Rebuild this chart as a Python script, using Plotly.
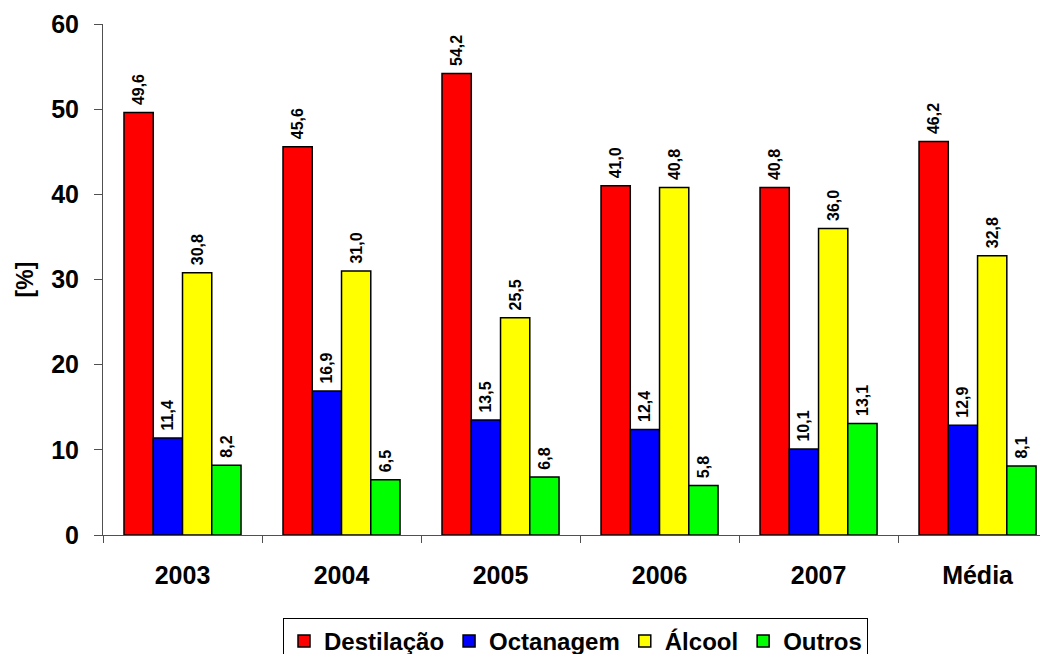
import plotly.graph_objects as go

categories = ["2003", "2004", "2005", "2006", "2007", "Média"]
destilacao = [49.6, 45.6, 54.2, 41.0, 40.8, 46.2]
octanagem = [11.4, 16.9, 13.5, 12.4, 10.1, 12.9]
alcool = [30.8, 31.0, 25.5, 40.8, 36.0, 32.8]
outros = [8.2, 6.5, 6.8, 5.8, 13.1, 8.1]

series = [
    ("Destilação", destilacao, "#FF0000"),
    ("Octanagem", octanagem, "#0000FF"),
    ("Álcool", alcool, "#FFFF00"),
    ("Outros", outros, "#00FF00"),
]

FONT = "Arial, Liberation Sans, sans-serif"
AXIS_COLOR = "#505050"

fig = go.Figure()
for name, vals, color in series:
    fig.add_trace(go.Bar(
        name=name, x=categories, y=vals,
        marker=dict(color=color, line=dict(color="black", width=1.5)),
        text=["\u00a0" + f"{v:.1f}".replace(".", ",") for v in vals],
        textposition="outside", textangle=-90, constraintext="none",
        textfont=dict(family=FONT, size=16, color="black", weight="bold"),
        cliponaxis=False,
    ))

fig.update_layout(
    width=1040, height=646,
    margin=dict(l=95, r=0, t=16, b=119, autoexpand=False),
    paper_bgcolor="white", plot_bgcolor="white",
    barmode="group", bargap=0.264, bargroupgap=0,
    font=dict(family=FONT, color="black"),
    xaxis=dict(
        type="category", range=[-0.5, 5.443],
        showline=True, linecolor=AXIS_COLOR, linewidth=1,
        ticks="outside", tickson="boundaries", ticklen=7, tickcolor=AXIS_COLOR,
        tickfont=dict(family=FONT, size=25, weight="bold"),
        ticklabelstandoff=18,
        showgrid=False,
    ),
    yaxis=dict(
        range=[0, 60], dtick=10,
        showline=True, linecolor=AXIS_COLOR, linewidth=1,
        ticks="outside", ticklen=8, tickcolor=AXIS_COLOR,
        tickfont=dict(family=FONT, size=25, weight="bold"),
        ticklabelstandoff=10,
        showgrid=False, zeroline=False,
        title=dict(text="[%]", font=dict(family=FONT, size=23, weight="bold"), standoff=11),
    ),
    legend=dict(
        orientation="h", x=0.5, xanchor="center", y=-0.162, yanchor="top",
        bordercolor="black", borderwidth=1,
        font=dict(family=FONT, size=24, weight="bold"),
        traceorder="normal", itemwidth=30,
    ),
    showlegend=True,
)

fig.write_html("out.html")
